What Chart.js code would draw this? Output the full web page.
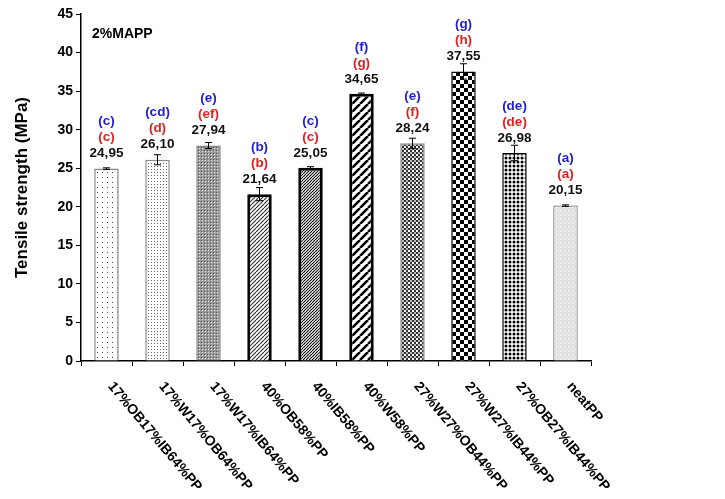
<!DOCTYPE html>
<html>
<head>
<meta charset="utf-8">
<script src="https://cdn.jsdelivr.net/npm/chart.js@4.4.1/dist/chart.umd.min.js"></script>
<style>
  html, body { margin: 0; padding: 0; background: #fff; }
  #wrap { width: 725px; height: 499px; }
</style>
</head>
<body>
<div id="wrap"><canvas id="c" width="725" height="499"></canvas></div>
<script>
const labels = ['17%OB17%IB64%PP', '17%W17%OB64%PP', '17%W17%IB64%PP', '40%OB58%PP', '40%IB58%PP',
  '40%W58%PP', '27%W27%OB44%PP', '27%W27%IB44%PP', '27%OB27%IB44%PP', 'neatPP'];
const values = [24.95, 26.10, 27.94, 21.64, 25.05, 34.65, 28.24, 37.55, 26.98, 20.15];
const errors = [0.1, 0.65, 0.4, 0.85, 0.15, 0.1, 0.65, 1.0, 1.0, 0.1];
const blueLetters = ['(c)', '(cd)', '(e)', '(b)', '(c)', '(f)', '(e)', '(g)', '(de)', '(a)'];
const redLetters = ['(c)', '(d)', '(ef)', '(b)', '(c)', '(g)', '(f)', '(h)', '(de)', '(a)'];
const yTicks = [0, 5, 10, 15, 20, 25, 30, 35, 40, 45];

const FONT = 'Liberation Sans, Arial, sans-serif';

function tile(w, h, draw) {
  const t = document.createElement('canvas');
  t.width = w; t.height = h;
  const g = t.getContext('2d');
  g.fillStyle = '#fff';
  g.fillRect(0, 0, w, h);
  draw(g);
  return document.getElementById('c').getContext('2d').createPattern(t, 'repeat');
}

function makePatterns() {
  return [
    tile(5, 5, g => { g.fillStyle = '#444'; g.fillRect(2, 2, 1, 1); }),
    tile(3, 3, g => { g.fillStyle = '#666'; g.fillRect(1, 1, 1, 1); }),
    tile(3, 3, g => { g.fillStyle = '#999'; g.fillRect(0, 0, 3, 3); g.fillStyle = '#e8e8e8'; g.fillRect(1, 1, 1, 1); g.fillStyle = '#555'; g.fillRect(0, 0, 1, 1); }),
    tile(4, 4, g => { g.strokeStyle = '#333'; g.lineWidth = 1.2; g.beginPath();
      for (let k = -1; k <= 1; k++) { g.moveTo(k * 4, 4); g.lineTo(k * 4 + 4, 0); } g.stroke(); }),
    tile(3, 3, g => { g.strokeStyle = '#111'; g.lineWidth = 1.2; g.beginPath();
      for (let k = -1; k <= 1; k++) { g.moveTo(k * 3, 3); g.lineTo(k * 3 + 3, 0); } g.stroke(); }),
    tile(8, 8, g => { g.strokeStyle = '#000'; g.lineWidth = 2.6; g.beginPath();
      for (let k = -1; k <= 1; k++) { g.moveTo(k * 8, 8); g.lineTo(k * 8 + 8, 0); } g.stroke(); }),
    tile(4, 4, g => { g.fillStyle = '#333'; g.fillRect(0, 0, 2, 2); g.fillRect(2, 2, 2, 2); g.fillStyle = '#bbb'; g.fillRect(2, 0, 2, 2); }),
    tile(8, 8, g => { g.fillStyle = '#000'; g.fillRect(0, 0, 4, 4); g.fillRect(4, 4, 4, 4); }),
    tile(4, 4, g => { g.fillStyle = '#000'; g.beginPath(); g.arc(2, 2, 1.5, 0, Math.PI * 2); g.fill(); }),
    tile(4, 4, g => { g.fillStyle = '#e6e6e6'; g.fillRect(0, 0, 4, 4); g.fillStyle = '#d2d2d2'; g.fillRect(1, 0, 1, 1); g.fillRect(3, 2, 1, 1); g.fillStyle = '#f2f2f2'; g.fillRect(0, 3, 1, 1); })
  ];
}

const annotations = {
  id: 'annotations',
  afterDatasetsDraw(chart) {
    const ctx = chart.ctx;
    const x = chart.scales.x, y = chart.scales.y;
    ctx.save();
    // error bars
    ctx.strokeStyle = '#000';
    ctx.lineWidth = 1;
    values.forEach((v, i) => {
      const cx = x.getPixelForValue(i);
      const yt = y.getPixelForValue(v + errors[i]);
      const yb = y.getPixelForValue(v - errors[i]);
      ctx.beginPath();
      ctx.moveTo(cx, yt); ctx.lineTo(cx, yb);
      ctx.moveTo(cx - 3.5, yt); ctx.lineTo(cx + 3.5, yt);
      ctx.moveTo(cx - 3.5, yb); ctx.lineTo(cx + 3.5, yb);
      ctx.stroke();
    });
    // labels above bars
    ctx.textAlign = 'center';
    ctx.textBaseline = 'middle';
    ctx.font = 'bold 13.5px ' + FONT;
    values.forEach((v, i) => {
      const cx = x.getPixelForValue(i);
      const top = y.getPixelForValue(v);
      ctx.fillStyle = '#111';
      ctx.fillText(v.toFixed(2).replace('.', ','), cx, top - 15);
      ctx.fillStyle = '#dd2222';
      ctx.fillText(redLetters[i], cx, top - 31);
      ctx.fillStyle = '#2222cc';
      ctx.fillText(blueLetters[i], cx, top - 47);
    });
    // rotated category labels
    ctx.fillStyle = '#000';
    ctx.textAlign = 'left';
    ctx.textBaseline = 'middle';
    ctx.font = 'bold 14px ' + FONT;
    labels.forEach((l, i) => {
      const cx = x.getPixelForValue(i);
      ctx.save();
      ctx.translate(cx + 4, 384);
      ctx.rotate(50 * Math.PI / 180);
      ctx.fillText(l, 0, 0);
      ctx.restore();
    });
    // inset label
    ctx.font = 'bold 14px ' + FONT;
    ctx.fillText('2%MAPP', 92, 34);
    ctx.restore();
  }
};

new Chart(document.getElementById('c'), {
  type: 'bar',
  data: {
    labels: labels,
    datasets: [{
      data: values,
      backgroundColor: makePatterns(),
      borderColor: ['#888', '#888', '#888', '#000', '#000', '#000', '#888', '#000', '#000', '#777'],
      borderWidth: [1.5, 1.5, 1.5, 3, 3, 3, 1.5, 1.5, 1.5, 1.2],
      borderSkipped: 'bottom',
      barPercentage: 0.48,
      categoryPercentage: 1
    }]
  },
  options: {
    responsive: false,
    animation: false,
    layout: { padding: { left: 0, right: 134, top: 14, bottom: 133 } },
    plugins: { legend: { display: false }, tooltip: { enabled: false } },
    scales: {
      x: {
        offset: true,
        grid: { display: true, offset: true, drawOnChartArea: false, drawTicks: true, tickLength: 5, color: '#000' },
        border: { display: true, color: '#000', width: 1.5 },
        ticks: { display: false },
        afterFit: s => { s.height = 5; }
      },
      y: {
        min: 0,
        max: 45,
        afterBuildTicks: s => { s.ticks = yTicks.map(v => ({ value: v })); },
        grid: { display: true, drawOnChartArea: false, drawTicks: true, tickLength: 5, color: '#000' },
        border: { display: true, color: '#000', width: 1.5 },
        ticks: { color: '#000', font: { family: FONT, size: 14, weight: 'bold' }, padding: 3 },
        title: { display: true, text: 'Tensile strength (MPa)', color: '#000',
          font: { family: FONT, size: 17, weight: 'bold' }, padding: { top: 12, bottom: 0 } },
        afterFit: s => { s.width = 81; }
      }
    }
  },
  plugins: [annotations]
});
</script>
</body>
</html>
